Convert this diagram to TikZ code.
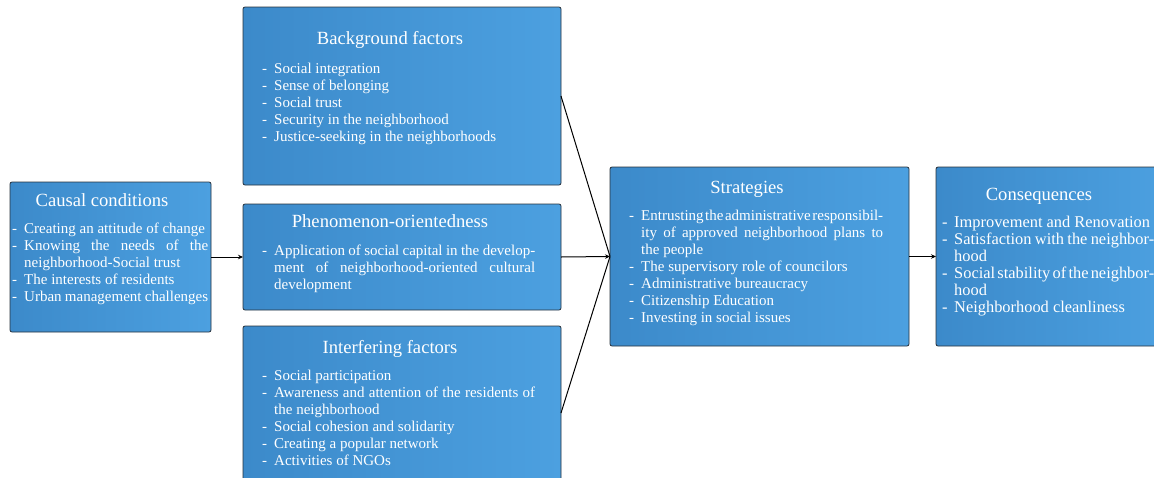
\documentclass[tikz,border=0pt]{standalone}
\usepackage{fontspec}
\setmainfont{Liberation Serif}
\usepackage{tikz}
\usetikzlibrary{arrows.meta}
\usepackage{color}
\definecolor{Box-dark}{RGB}{60,138,202}
\definecolor{Box-light}{RGB}{76,160,224}
\definecolor{Box-line}{RGB}{40,50,60}
\newcommand{\itm}[1]{\noindent\hyphenpenalty10000\hangindent12pt\hangafter1\makebox[12pt][l]{-}#1\par}

\begin{document}
\begin{tikzpicture}[x=1pt, y=-1pt]
    \tikzset{ box/.style={draw=Box-line, line width=0.8pt, rounded corners=2pt, left color=Box-dark, right color=Box-light, anchor=north west, inner sep=0pt, outer sep=0pt} }
    \tikzset{ ttl/.style={text=white, anchor=base, inner sep=0pt, font={\fontsize{18.6}{20}\selectfont}} }
    \tikzset{ lst/.style={text=white, anchor=base west, inner sep=0pt, align=justify, font={\fontsize{15}{17}\selectfont}} }
    \tikzset{ arr/.style={line width=1pt, -{Stealth[length=5pt, width=4.5pt]}} }

    \useasboundingbox (0,0) rectangle (1154,477);
    \clip (0,0) rectangle (1154,477);

    \node[box, minimum width=201pt, minimum height=150pt] (cc) at (10,182) {};
    \node[box, minimum width=318pt, minimum height=178pt] (bg) at (243,7) {};
    \node[box, minimum width=318pt, minimum height=106pt] (ph) at (243,204) {};
    \node[box, minimum width=318pt, minimum height=174pt] (it) at (243,326) {};
    \node[box, minimum width=299pt, minimum height=179pt] (st) at (610,167) {};
    \node[box, minimum width=230pt, minimum height=179pt] (cq) at (936,167) {};

    \node[ttl] (cc-t) at (102,206) {Causal conditions};
    \node[lst, text width=196pt] (cc-l) at (12,233) {%
      \itm{Creating an attitude of change}
      \itm{Knowing the needs of the\linebreak neighborhood-Social trust}
      \itm{The interests of residents}
      \itm{Urban management challenges}};

    \node[ttl] (bg-t) at (390,44) {Background factors};
    \node[lst, text width=273pt] (bg-l) at (262,73) {%
      \itm{Social integration}
      \itm{Sense of belonging}
      \itm{Social trust}
      \itm{Security in the neighborhood}
      \itm{Justice-seeking in the neighborhoods}};

    \node[ttl] (ph-t) at (390,227) {Phenomenon-orientedness};
    \node[lst, text width=273pt] (ph-l) at (262,255) {%
      \itm{Application of social capital in the develop-\linebreak ment of neighborhood-oriented cultural\linebreak development}};

    \node[ttl] (it-t) at (390,353) {Interfering factors};
    \node[lst, text width=273pt] (it-l) at (262,380) {%
      \itm{Social participation}
      \itm{Awareness and attention of the residents of the neighborhood}
      \itm{Social cohesion and solidarity}
      \itm{Creating a popular network}
      \itm{Activities of NGOs}};

    \node[ttl] (st-t) at (747,193) {Strategies};
    \node[lst, text width=254pt] (st-l) at (629,220) {%
      \itm{Entrusting\hspace{1.4pt plus 1pt}the\hspace{1.4pt plus 1pt}administrative\hspace{1.4pt plus 1pt}responsibil-\linebreak ity of approved neighborhood plans to\linebreak the people}
      \itm{The supervisory role of councilors}
      \itm{Administrative bureaucracy}
      \itm{Citizenship Education}
      \itm{Investing in social issues}};

    \node[ttl] (cq-t) at (1039,200) {Consequences};
    \node[lst, text width=212pt, font={\fontsize{16.4}{17}\selectfont}] (cq-l) at (942,227) {%
      \itm{Improvement and Renovation}
      \itm{Satisfaction with the neighbor-\linebreak hood}
      \itm{Social\hspace{1.9pt plus 1pt}stability\hspace{1.9pt plus 1pt}of\hspace{1.9pt plus 1pt}the\hspace{1.9pt plus 1pt}neighbor-\linebreak hood}
      \itm{Neighborhood cleanliness}};

    \draw[arr] (cc.east) -- (ph.west);
    \draw[line width=1pt] (bg.east) -- (st.west);
    \draw[arr] (ph.east) -- (st.west);
    \draw[line width=1pt] (it.east) -- (st.west);
    \draw[arr] (st.east) -- (cq.west);
\end{tikzpicture}
\end{document}
